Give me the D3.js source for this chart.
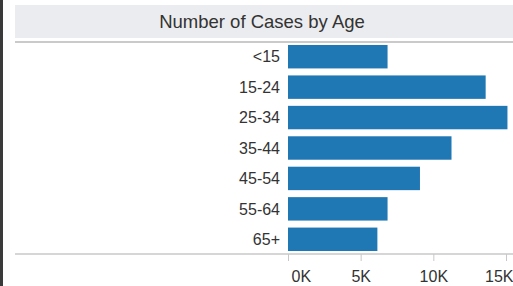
<!DOCTYPE html>
<html><head><meta charset="utf-8">
<script src="https://cdn.jsdelivr.net/npm/d3@7"></script>
<style>body{margin:0;background:#fff;}svg{display:block;font-family:"Liberation Sans",Arial,sans-serif;}</style>
</head><body>
<svg id="c" width="513" height="286"></svg>
<script>
const title = "Number of Cases by Age";
const categories = ["<15","15-24","25-34","35-44","45-54","55-64","65+"];
const values = [6850, 13600, 15100, 11250, 9080, 6850, 6150];
const tickValues = [0, 5000, 10000, 15000];

const svg = d3.select("#c");
const W = 513, H = 286;
svg.append("rect").attr("x",0).attr("y",0).attr("width",3).attr("height",H).attr("fill","#3a3a3a");
svg.append("rect").attr("x",15).attr("y",5).attr("width",W-15).attr("height",33).attr("fill","#ebecef");
svg.append("line").attr("x1",15).attr("x2",W).attr("y1",42).attr("y2",42).attr("stroke","#b8b8b8").attr("stroke-width",1.5);
svg.append("text").attr("x",262).attr("y",28).attr("text-anchor","middle").attr("font-size",18.5).attr("fill","#333").text(title);

const x = d3.scaleLinear().domain([0,15000]).range([288,506]);
const y = d3.scaleBand().domain(categories).range([41.5,254.5]).paddingInner(0.23).paddingOuter(0.115);

svg.selectAll("rect.bar").data(values).enter().append("rect").attr("class","bar")
  .attr("x", x(0)).attr("y",(d,i)=>y(categories[i])).attr("height",y.bandwidth())
  .attr("width",d=>x(d)-x(0)).attr("fill","#1f77b4");

svg.selectAll("text.cat").data(categories).enter().append("text").attr("class","cat")
  .attr("x",280).attr("y",d=>y(d)+y.bandwidth()/2).attr("dy","0.36em").attr("text-anchor","end")
  .attr("font-size",16).attr("fill","#333").text(d=>d);

svg.append("line").attr("x1",15).attr("x2",W).attr("y1",254).attr("y2",254).attr("stroke","#c8c8c8").attr("stroke-width",1.5);
const ax = svg.append("g").attr("transform","translate(0,254)")
  .call(d3.axisBottom(x).tickValues(tickValues).tickFormat(d=>d/1000+"K").tickSize(7).tickPadding(10));
ax.select(".domain").remove();
ax.selectAll(".tick line").attr("stroke","#c8c8c8");
ax.selectAll(".tick text").attr("font-size",16).attr("fill","#333").attr("font-family","Liberation Sans, Arial, sans-serif");
ax.selectAll(".tick text").filter(d=>d===0).attr("text-anchor","start").attr("x",3);
ax.selectAll(".tick text").filter(d=>d===15000).attr("text-anchor","end").attr("x",7);
</script>
</body></html>
